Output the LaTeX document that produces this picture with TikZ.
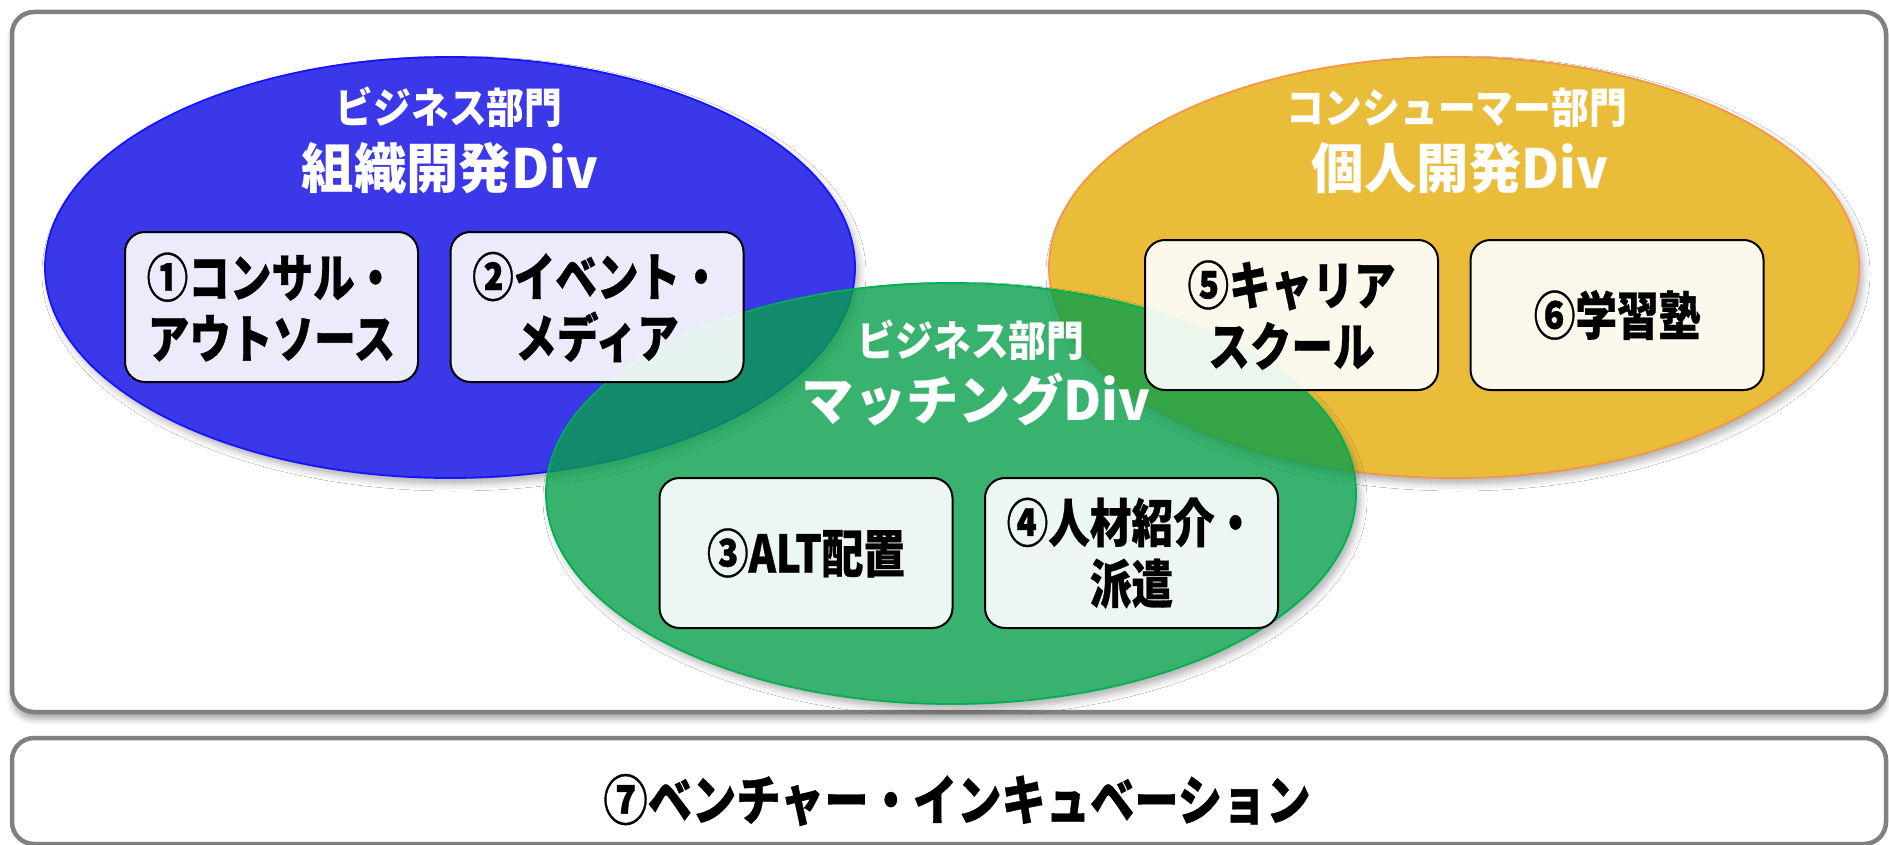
\documentclass[tikz,border=0pt]{standalone}
\usepackage{fontspec}
\usetikzlibrary{shapes.geometric,shadows.blur}
\newfontfamily\jp{Noto Sans CJK JP}[FakeStretch=0.97]
\newfontfamily\jpbox{Noto Sans CJK JP}[FakeStretch=0.8,FakeBold=0.6]
\newfontfamily\jpsub{Noto Sans CJK JP}[FakeStretch=0.9]
\newfontfamily\jpbot{Noto Sans CJK JP}[FakeStretch=0.82,FakeBold=0.6]
\definecolor{bluefill}{RGB}{58,56,232}
\definecolor{blueline}{RGB}{20,20,255}
\definecolor{yellowfill}{RGB}{233,189,58}
\definecolor{yellowline}{RGB}{247,150,70}
\definecolor{greenfill}{RGB}{8,159,76}
\definecolor{greenline}{RGB}{0,176,80}
\definecolor{framegray}{RGB}{128,128,128}
\tikzset{
  framebox/.style={rectangle, rounded corners=22pt, draw=framegray, line width=4.5pt, fill=white, inner sep=0pt},
  ellshadow/.style={blur shadow={shadow xshift=4pt, shadow yshift=-6pt, shadow blur radius=7pt, shadow opacity=30}},
  divell/.style={ellipse, inner sep=0pt, line width=1.8pt, minimum width=810pt, minimum height=421pt},
  itembox/.style={rectangle, rounded corners=20pt, draw=black, line width=2pt, fill=white, fill opacity=0.9,
    text opacity=1, minimum width=293pt, minimum height=150pt, inner sep=0pt, align=center,
    font=\jpbox\bfseries\fontsize{52}{61}\selectfont},
  subtitle/.style={text=white, inner sep=0pt, font=\jpsub\bfseries\fontsize{42}{48}\selectfont},
  maintitle/.style={text=white, inner sep=0pt, font=\jp\bfseries\fontsize{54}{60}\selectfont}
}
\begin{document}
\begin{tikzpicture}[x=1pt,y=-1pt]
\useasboundingbox (0,0) rectangle (1889,845);
% frames
\node[framebox, minimum width=1874pt, minimum height=700pt,
  blur shadow={shadow xshift=0pt, shadow yshift=-7pt, shadow blur radius=6pt, shadow opacity=35}] (frame) at (949,362) {};
\node[framebox, minimum width=1874pt, minimum height=106pt] (venture) at (949,791) {};
% ellipses
\node[divell, ellshadow, fill=bluefill, draw=blueline] (blue) at (450,267.5) {};
\node[divell, ellshadow, fill=yellowfill, draw=yellowline] (yellow) at (1454,267.5) {};
\begin{scope}[even odd rule]
  \clip (0,0) rectangle (1889,845) (951,493.5) ellipse [x radius=405pt, y radius=210.5pt];
  \node[divell, ellshadow] (gshadow) at (951,493.5) {};
\end{scope}
\node[divell, fill=greenfill, fill opacity=0.8, draw=greenline] (green) at (951,493.5) {};
% item boxes
\node[itembox] (b1) at (271.5,307) {①コンサル・\\アウトソース};
\node[itembox] (b2) at (597,307) {②イベント・\\メディア};
\node[itembox] (b5) at (1291.5,315) {⑤キャリア\\スクール};
\node[itembox] (b6) at (1617,315) {⑥学習塾};
\node[itembox] (b3) at (806,553) {③ALT配置};
\node[itembox] (b4) at (1131.5,553) {④人材紹介・\\派遣};
% titles
\node[subtitle] (t1a) at (449,107) {ビジネス部門};
\node[maintitle] (t1b) at (450,168) {組織開発Div};
\node[subtitle] (t2a) at (1457,108) {コンシューマー部門};
\node[maintitle] (t2b) at (1460,168) {個人開発Div};
\node[subtitle] (t3a) at (971,340) {ビジネス部門};
\node[maintitle] (t3b) at (976,400) {マッチングDiv};
% bottom label
\node[inner sep=0pt, font=\jpbot\bfseries\fontsize{54}{60}\selectfont] (t7) at (957,800) {⑦ベンチャー・インキュベーション};
\end{tikzpicture}
\end{document}
